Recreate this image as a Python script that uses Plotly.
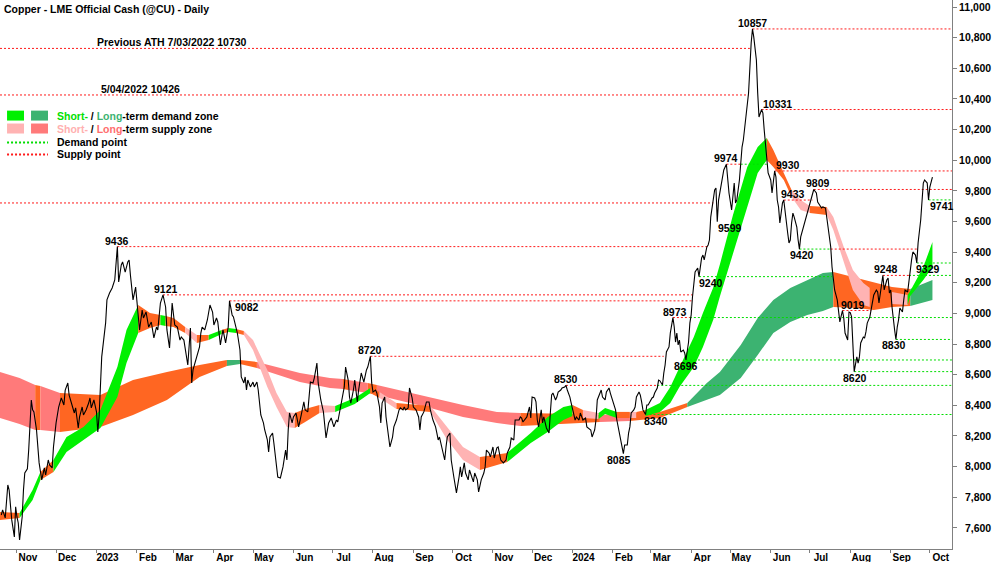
import plotly.graph_objects as go

# ---------------- price (daily close) ----------------
price_dates = [
"2022-10-20","2022-10-21","2022-10-23","2022-10-25","2022-10-26","2022-10-28","2022-10-30","2022-10-31",
"2022-11-01","2022-11-02","2022-11-03","2022-11-05","2022-11-06","2022-11-07","2022-11-09","2022-11-10",
"2022-11-12","2022-11-13","2022-11-14","2022-11-16","2022-11-18","2022-11-19","2022-11-20","2022-11-22",
"2022-11-23","2022-11-25","2022-11-26","2022-11-28","2022-11-29","2022-12-01","2022-12-03","2022-12-05",
"2022-12-07","2022-12-08","2022-12-10","2022-12-11","2022-12-13","2022-12-15","2022-12-16","2022-12-18",
"2022-12-19","2022-12-21","2022-12-22","2022-12-24","2022-12-26","2022-12-27","2022-12-28","2022-12-30",
"2023-01-01","2023-01-02","2023-01-03","2023-01-05","2023-01-08","2023-01-09","2023-01-11","2023-01-13",
"2023-01-15","2023-01-17","2023-01-18","2023-01-20","2023-01-21","2023-01-23","2023-01-25","2023-01-26",
"2023-01-27","2023-01-29","2023-01-31","2023-02-01","2023-02-03","2023-02-05","2023-02-06","2023-02-08",
"2023-02-10","2023-02-12","2023-02-13","2023-02-14","2023-02-16","2023-02-17","2023-02-19","2023-02-21",
"2023-02-23","2023-02-24","2023-02-26","2023-02-27","2023-02-28","2023-03-02","2023-03-04","2023-03-06",
"2023-03-07","2023-03-09","2023-03-11","2023-03-12","2023-03-14","2023-03-15","2023-03-16","2023-03-18",
"2023-03-19","2023-03-21","2023-03-22","2023-03-23","2023-03-25","2023-03-27","2023-03-29","2023-03-31",
"2023-04-01","2023-04-03","2023-04-04","2023-04-06","2023-04-07","2023-04-08","2023-04-10","2023-04-12",
"2023-04-13","2023-04-15","2023-04-16","2023-04-19","2023-04-21","2023-04-22","2023-04-24","2023-04-25",
"2023-04-26","2023-04-27","2023-04-29","2023-05-01","2023-05-02","2023-05-04","2023-05-05","2023-05-07",
"2023-05-09","2023-05-10","2023-05-12","2023-05-13","2023-05-14","2023-05-16","2023-05-17","2023-05-19",
"2023-05-20","2023-05-22","2023-05-24","2023-05-26","2023-05-27","2023-05-28","2023-05-29","2023-05-31",
"2023-06-01","2023-06-03","2023-06-05","2023-06-07","2023-06-09","2023-06-10","2023-06-12","2023-06-14",
"2023-06-16","2023-06-17","2023-06-19","2023-06-20","2023-06-22","2023-06-24","2023-06-25","2023-06-26",
"2023-06-28","2023-06-30","2023-07-02","2023-07-04","2023-07-05","2023-07-08","2023-07-10","2023-07-11",
"2023-07-13","2023-07-14","2023-07-15","2023-07-17","2023-07-18","2023-07-20","2023-07-21","2023-07-23",
"2023-07-25","2023-07-27","2023-07-28","2023-07-30","2023-07-31","2023-08-01","2023-08-03","2023-08-04",
"2023-08-06","2023-08-07","2023-08-08","2023-08-10","2023-08-11","2023-08-13","2023-08-14","2023-08-16",
"2023-08-17","2023-08-19","2023-08-21","2023-08-22","2023-08-24","2023-08-25","2023-08-26","2023-08-28",
"2023-08-29","2023-08-31","2023-09-01","2023-09-03","2023-09-05","2023-09-06","2023-09-07","2023-09-09",
"2023-09-11","2023-09-13","2023-09-14","2023-09-16","2023-09-18","2023-09-19","2023-09-20","2023-09-21",
"2023-09-23","2023-09-25","2023-09-26","2023-09-27","2023-09-29","2023-09-30","2023-10-02","2023-10-04",
"2023-10-06","2023-10-07","2023-10-08","2023-10-10","2023-10-11","2023-10-13","2023-10-14","2023-10-16",
"2023-10-17","2023-10-18","2023-10-20","2023-10-21","2023-10-23","2023-10-25","2023-10-26","2023-10-27",
"2023-10-29","2023-10-30","2023-11-01","2023-11-02","2023-11-04","2023-11-05","2023-11-07","2023-11-09",
"2023-11-11","2023-11-12","2023-11-14","2023-11-15","2023-11-17","2023-11-18","2023-11-21","2023-11-22",
"2023-11-23","2023-11-24","2023-11-27","2023-11-29","2023-11-30","2023-12-01","2023-12-03","2023-12-04",
"2023-12-05","2023-12-06","2023-12-08","2023-12-09","2023-12-10","2023-12-12","2023-12-14","2023-12-15",
"2023-12-16","2023-12-17","2023-12-19","2023-12-20","2023-12-21","2023-12-23","2023-12-24","2023-12-26",
"2023-12-27","2023-12-28","2023-12-30","2023-12-31","2024-01-02","2024-01-03","2024-01-04","2024-01-06",
"2024-01-07","2024-01-09","2024-01-11","2024-01-12","2024-01-15","2024-01-16","2024-01-18","2024-01-19",
"2024-01-20","2024-01-22","2024-01-23","2024-01-24","2024-01-26","2024-01-27","2024-01-29","2024-01-30",
"2024-01-31","2024-02-01","2024-02-03","2024-02-04","2024-02-05","2024-02-07","2024-02-08","2024-02-09",
"2024-02-10","2024-02-12","2024-02-13","2024-02-14","2024-02-15","2024-02-17","2024-02-18","2024-02-19",
"2024-02-21","2024-02-22","2024-02-23","2024-02-24","2024-02-26","2024-02-27","2024-02-28","2024-03-01",
"2024-03-02","2024-03-03","2024-03-04","2024-03-06","2024-03-07","2024-03-08","2024-03-10","2024-03-11",
"2024-03-12","2024-03-13","2024-03-15","2024-03-16","2024-03-18","2024-03-19","2024-03-20","2024-03-21",
"2024-03-22","2024-03-23","2024-03-24","2024-03-26","2024-03-27","2024-03-28","2024-03-29","2024-03-30",
"2024-03-31","2024-04-01","2024-04-02","2024-04-03","2024-04-04","2024-04-06","2024-04-07","2024-04-09",
"2024-04-10","2024-04-11","2024-04-13","2024-04-14","2024-04-15","2024-04-16","2024-04-18","2024-04-19",
"2024-04-20","2024-04-21","2024-04-22","2024-04-25","2024-04-26","2024-04-28","2024-04-29","2024-04-30",
"2024-05-02","2024-05-03","2024-05-04","2024-05-05","2024-05-06","2024-05-08","2024-05-09","2024-05-10",
"2024-05-11","2024-05-12","2024-05-14","2024-05-15","2024-05-17","2024-05-18","2024-05-19","2024-05-21",
"2024-05-22","2024-05-23","2024-05-25","2024-05-26","2024-05-27","2024-05-29","2024-05-30","2024-06-01",
"2024-06-02","2024-06-04","2024-06-05","2024-06-06","2024-06-07","2024-06-08","2024-06-10","2024-06-11",
"2024-06-12","2024-06-14","2024-06-15","2024-06-16","2024-06-17","2024-06-18","2024-06-19","2024-06-21",
"2024-06-22","2024-06-23","2024-06-24","2024-06-26","2024-06-28","2024-06-30","2024-07-02","2024-07-04",
"2024-07-06","2024-07-07","2024-07-10","2024-07-11","2024-07-13","2024-07-14","2024-07-15","2024-07-17",
"2024-07-18","2024-07-19","2024-07-20","2024-07-22","2024-07-23","2024-07-24","2024-07-26","2024-07-27",
"2024-07-28","2024-07-30","2024-07-31","2024-08-01","2024-08-02","2024-08-03","2024-08-04","2024-08-06",
"2024-08-07","2024-08-08","2024-08-09","2024-08-11","2024-08-12","2024-08-13","2024-08-14","2024-08-16",
"2024-08-17","2024-08-18","2024-08-19","2024-08-21","2024-08-22","2024-08-23","2024-08-25","2024-08-26",
"2024-08-27","2024-08-29","2024-08-30","2024-08-31","2024-09-01","2024-09-02","2024-09-04","2024-09-05",
"2024-09-06","2024-09-07","2024-09-08","2024-09-10","2024-09-11","2024-09-12","2024-09-14","2024-09-15",
"2024-09-16","2024-09-17","2024-09-18","2024-09-20","2024-09-21","2024-09-22","2024-09-24","2024-09-25",
"2024-09-26","2024-09-27","2024-09-29","2024-09-30","2024-10-01","2024-10-03",
]
price_vals = [
7684,7717,7665,7880,7847,7652,7541,7737,
7671,7632,7521,7671,7847,7958,7985,8108,
8435,8370,8357,8239,8024,7978,7913,7991,
7945,8043,8011,7991,8128,8285,8389,8448,
8402,8500,8546,8467,8415,8350,8383,8252,
8324,8389,8337,8370,8415,8448,8383,8435,
8357,8226,8330,8716,8938,9088,9133,9166,
9218,9436,9205,9316,9336,9270,9336,9349,
9251,9088,9172,9075,8892,9022,8970,9009,
8911,8944,8892,8840,8911,8892,9068,9121,
9042,8892,8774,8892,9068,8924,8911,8826,
8846,8826,8716,8663,8905,8546,8631,8696,
8729,8781,8872,8911,8892,8957,9055,9009,
8924,8970,8944,8794,8846,8892,8807,8911,
9082,8990,8977,8872,8761,8585,8546,8585,
8500,8565,8520,8552,8520,8552,8500,8337,
8285,8239,8174,8096,8193,8219,8154,8024,
7932,7926,7998,8108,8043,8239,8350,8285,
8324,8350,8259,8337,8422,8370,8357,8552,
8546,8578,8676,8546,8435,8357,8259,8187,
8285,8317,8259,8304,8291,8415,8520,8650,
8565,8454,8415,8500,8565,8422,8500,8611,
8552,8631,8650,8720,8546,8487,8500,8480,
8389,8285,8415,8454,8324,8193,8128,8193,
8259,8304,8370,8383,8370,8389,8370,8383,
8513,8448,8389,8370,8324,8239,8324,8357,
8422,8422,8370,8304,8259,8219,8174,8193,
8108,8043,8128,8193,8219,8043,7932,7828,
7932,7998,7932,8024,7958,7913,7978,7932,
7900,7958,7913,7835,7913,7958,7998,8108,
8089,8063,8128,8056,8122,8128,8043,8024,
8043,8089,8128,8187,8174,8304,8304,8324,
8317,8291,8324,8389,8317,8454,8448,8422,
8304,8259,8370,8285,8324,8252,8219,8350,
8467,8480,8435,8454,8487,8500,8513,8520,
8530,8500,8454,8415,8350,8304,8324,8304,
8350,8304,8317,8259,8239,8193,8239,8304,
8435,8480,8500,8454,8435,8487,8513,8480,
8454,8422,8370,8304,8259,8174,8108,8085,
8141,8141,8219,8259,8350,8370,8389,8454,
8487,8467,8422,8370,8340,8402,8402,8435,
8448,8454,8480,8513,8565,8560,8533,8611,
8663,8748,8781,8872,8973,8911,8813,8872,
8794,8826,8748,8761,8742,8696,8748,8813,
8937,8990,9107,9198,9270,9296,9240,9362,
9381,9349,9434,9447,9479,9629,9740,9806,
9819,9599,9740,9871,9936,9974,9890,9786,
9675,9773,9851,9721,9740,9871,10001,10086,
10132,10217,10347,10439,10765,10857,10804,10654,
10439,10282,10331,10308,10197,10021,9917,9871,
9786,9930,9890,9740,9695,9590,9721,9740,
9655,9525,9460,9479,9590,9655,9629,9564,
9479,9420,9499,9564,9629,9695,9760,9809,
9786,9727,9688,9695,9688,9623,9544,9434,
9303,9218,9153,9088,9009,8944,9019,8970,
8872,8826,9009,9005,8977,8761,8620,8716,
8676,8716,8807,8846,8840,8879,8937,8977,
9022,9068,9120,9153,9140,9068,9172,9248,
9153,9218,9231,9133,9153,9042,8892,8830,
8911,8957,9035,9009,9088,9153,9140,9218,
9264,9349,9401,9381,9329,9460,9610,9740,
9851,9871,9851,9741,9825,9890,
]

# ---------------- long-term zone band ----------------
lt_dates = ["2022-10-19","2022-11-03","2022-11-15","2022-11-19","2022-12-04","2023-01-04","2023-01-29",
            "2023-02-24","2023-03-21","2023-04-11","2023-04-21","2023-05-04","2023-06-06","2023-06-29",
            "2023-07-09","2023-07-13","2023-07-28","2023-08-04","2023-09-14","2023-10-09","2023-11-04",
            "2023-11-22","2024-01-07","2024-01-22","2024-02-14","2024-03-08","2024-03-29","2024-04-13",
            "2024-04-23","2024-05-09","2024-05-22","2024-06-03","2024-06-16","2024-06-29","2024-07-11",
            "2024-07-19","2024-08-06","2024-08-19","2024-09-02","2024-09-16","2024-10-03"]
lt_upper = [8618,8578,8533,8526,8480,8467,8565,8618,8663,8696,8696,8683,8611,8578,8572,8565,8546,8533,
            8454,8402,8357,8350,8344,8337,8350,8357,8415,8546,8618,8794,8970,9088,9166,9218,9264,9270,
            9231,9199,9172,9159,9218]
lt_lower = [8317,8278,8239,8239,8226,8259,8337,8435,8585,8657,8670,8644,8552,8513,8507,8500,8480,8467,
            8383,8324,8285,8265,8285,8291,8298,8317,8389,8435,8467,8578,8729,8872,8944,8990,9016,9042,
            9035,9022,9042,9048,9088]
lt_state = ["ls","ls","x","ls","x","x","x","x","x","ld","x","ls","ls","ls","x","ls","x","ls","ls","ls",
            "ls","x","x","ls","x","x","ld","ld","ld","ld","ld","ld","ld","ld","ld","x","x","x","x","ld"]

# ---------------- short-term zone band ----------------
st_dates = ["2022-10-19","2022-11-03","2022-11-13","2022-11-19","2022-11-29","2022-12-09","2022-12-22",
            "2023-01-04","2023-01-17","2023-01-24","2023-02-02","2023-02-11","2023-02-19","2023-02-23",
            "2023-03-01","2023-03-10","2023-03-19","2023-03-28","2023-04-07","2023-04-12","2023-04-18",
            "2023-04-24","2023-05-01","2023-05-12","2023-05-19","2023-05-27","2023-06-02","2023-06-10",
            "2023-06-21","2023-07-03","2023-07-18","2023-07-30","2023-08-06","2023-08-19","2023-09-14",
            "2023-09-27","2023-10-09","2023-10-22","2023-11-12","2023-11-30","2023-12-13","2023-12-25",
            "2024-01-01","2024-01-09","2024-01-21","2024-01-26","2024-02-04","2024-02-14","2024-02-19",
            "2024-02-26","2024-03-08","2024-03-16","2024-03-23","2024-04-03","2024-04-10","2024-04-18",
            "2024-04-23","2024-05-03","2024-05-14","2024-05-22","2024-05-29","2024-06-03","2024-06-11",
            "2024-06-17","2024-06-24","2024-07-01","2024-07-14","2024-07-19","2024-07-27","2024-08-03",
            "2024-08-11","2024-08-16","2024-09-02","2024-09-14","2024-09-16","2024-09-26","2024-10-03"]
st_upper = [7704,7697,7847,7965,8043,8193,8259,8370,8650,8892,9055,9003,8990,8983,8970,8911,8859,8859,
            8892,8905,8898,8885,8826,8631,8480,8357,8350,8376,8402,8396,8448,8513,8487,8415,8396,8259,
            8128,8063,8089,8219,8324,8389,8402,8370,8350,8383,8357,8357,8357,8370,8415,8520,8650,8846,
            9003,9170,9320,9640,9956,10086,10145,10067,9917,9806,9740,9701,9695,9630,9434,9284,9199,
            9166,9140,9120,9146,9303,9466]
st_lower = [7652,7665,7782,7913,7965,8096,8174,8252,8454,8676,8872,8905,8924,8918,8911,8872,8807,8826,
            8866,8879,8872,8859,8761,8520,8389,8259,8252,8291,8350,8357,8409,8480,8448,8376,8357,8174,
            8043,7978,8030,8154,8226,8304,8331,8317,8311,8344,8317,8317,8317,8331,8357,8415,8520,8650,
            8781,8960,9110,9400,9695,9917,10001,9956,9871,9760,9675,9656,9643,9545,9336,9153,9055,
            9042,9062,9055,9114,9218,9303]
st_state = ["x","sd","sd","x","sd","sd","sd","sd","sd","sd","x","x","sd","x","x","ss","x","sd","x","sd",
            "x","ss","ss","ss","ss","ss","x","x","ss","sd","sd","x","ss","x","ss","ss","ss","x","sd","sd",
            "sd","sd","x","ss","sd","sd","x","ss","x","sd","sd","sd","sd","sd","sd","sd","sd","sd","sd",
            "sd","x","x","x","ss","ss","x","ss","ss","ss","ss","ss","x","ss","sd","sd","sd"]

# ---------------- supply (red) / demand (green) points ----------------
lvl_value = [10730,10426,10857,10331,9930,9809,9974,9974,9740,9721,9436,9420,9420,9248,9248,9240,
             9329,9741,8973,8973,8696,8830,8620,8340,8530,8530,8720,9121,9082,9019]
lvl_start = ["2022-10-19","2022-10-19","2024-05-18","2024-05-25","2024-06-04","2024-07-04","2024-04-28",
             "2024-05-09","2024-06-11","2022-10-19","2023-01-17","2024-06-23","2024-07-17","2024-08-26",
             "2024-09-15","2024-04-07","2024-09-21","2024-09-30","2024-03-18","2024-03-31","2024-03-28",
             "2024-09-05","2024-08-04","2024-02-26","2023-12-27","2024-03-06","2023-07-30","2023-02-21",
             "2023-04-13","2024-07-26"]
lvl_end = ["2024-05-16","2024-05-15","2024-10-18","2024-10-18","2024-10-18","2024-10-18","2024-05-09",
           "2024-05-29","2024-07-03","2024-04-18","2024-04-14","2024-07-17","2024-09-22","2024-09-15",
           "2024-10-18","2024-07-18","2024-10-18","2024-10-18","2024-03-31","2024-10-18","2024-10-18",
           "2024-10-18","2024-10-18","2024-10-18","2024-03-06","2024-10-18","2024-03-11","2024-04-02",
           "2024-04-02","2024-08-17"]
lvl_kind = ["s","s","s","s","s","s","s","d","s","s","s","d","s","s","d","d","d","d","s","d","d","d",
            "d","d","s","d","s","s","s","s"]

# ---------------- point labels ----------------
lbl_text = ["9436","9121","9082","8720","8530","8085","8340","8973","8696","9240","9599","9974","10857",
            "10331","9930","9433","9809","9420","9019","8620","9248","8830","9329","9741"]
lbl_date = ["2023-01-17","2023-02-21","2023-04-13","2023-07-30","2023-12-27","2024-02-09","2024-02-26",
            "2024-03-18","2024-03-28","2024-04-07","2024-04-21","2024-04-28","2024-05-18","2024-05-25",
            "2024-06-04","2024-06-11","2024-07-04","2024-06-23","2024-07-26","2024-08-04","2024-08-26",
            "2024-09-05","2024-09-21","2024-09-30"]
lbl_value = [9436,9121,9082,8720,8530,8085,8340,8973,8696,9240,9599,9974,10857,10331,9930,9740,9809,
             9420,9019,8620,9248,8830,9329,9741]
lbl_side = ["t","t","br","t","t","b","br","t","b","br","br","t","t","tr","tr","tr","t","b","tr","b",
            "t","b","br","br"]
lbl_dx = [0,3,3,0,0,-4,-4,2,0,-2,-1,0,0,-1,-1,-5,4,3,-3,1,3,-2,-3,-1]

month_ticks = ["2022-11-01","2022-12-01","2023-01-01","2023-02-01","2023-03-01","2023-04-01","2023-05-01",
               "2023-06-01","2023-07-01","2023-08-01","2023-09-01","2023-10-01","2023-11-01","2023-12-01",
               "2024-01-01","2024-02-01","2024-03-01","2024-04-01","2024-05-01","2024-06-01","2024-07-01",
               "2024-08-01","2024-09-01","2024-10-01"]
month_text = ["Nov","Dec","2023","Feb","Mar","Apr","May","Jun","Jul","Aug","Sep","Oct","Nov","Dec",
              "2024","Feb","Mar","Apr","May","Jun","Jul","Aug","Sep","Oct"]
price_ticks = list(range(7600, 11001, 200))

# ---------------- styles ----------------
FONT = "Liberation Sans, Arial, sans-serif"
zone_fill = {"sd": "#00F000", "ld": "#3CB371", "ss": "#FFB3B3", "ls": "#FF7A7A", "x": "#FF6622"}
kind_color = {"s": "#FF1A1A", "d": "#00DD00"}

fig = go.Figure()


def add_band(dates, up, lo, state):
    n = len(dates)
    i = 0
    while i < n - 1:
        j = i
        while j + 1 < n - 1 and state[j + 1] == state[i]:
            j += 1
        xs = dates[i:j + 2] + dates[i:j + 2][::-1]
        ys = up[i:j + 2] + lo[i:j + 2][::-1]
        fig.add_trace(go.Scatter(x=xs, y=ys, mode="lines", fill="toself",
                                 fillcolor=zone_fill[state[i]], line=dict(width=0),
                                 hoverinfo="skip", showlegend=False))
        i = j + 1


add_band(lt_dates, lt_upper, lt_lower, lt_state)
add_band(st_dates, st_upper, st_lower, st_state)

for v, s, e, k in zip(lvl_value, lvl_start, lvl_end, lvl_kind):
    fig.add_trace(go.Scatter(x=[s, e], y=[v, v], mode="lines",
                             line=dict(color=kind_color[k], width=1, dash="2px,2px"),
                             hoverinfo="skip", showlegend=False))

fig.add_trace(go.Scatter(x=price_dates, y=price_vals, mode="lines",
                         line=dict(color="#000000", width=1.1), showlegend=False,
                         hovertemplate="%{x}<br>%{y}<extra></extra>"))

bold = dict(family=FONT, size=10.5, color="#000000", weight="bold")
annotations = []
anchor = {"t": ("center", "bottom", -2), "b": ("center", "top", 2),
          "tr": ("left", "bottom", -2), "br": ("left", "top", 2)}
for t, d, v, s, dx in zip(lbl_text, lbl_date, lbl_value, lbl_side, lbl_dx):
    xa, ya, dy = anchor[s]
    annotations.append(dict(x=d, y=v, xref="x", yref="y", text=t, showarrow=False,
                            xanchor=xa, yanchor=ya, xshift=dx, yshift=dy, font=bold))

annotations.append(dict(x="2023-02-28", y=10730, xref="x", yref="y", text="Previous ATH 7/03/2022 10730",
                        showarrow=False, xanchor="center", yanchor="bottom", yshift=-2, font=bold))
annotations.append(dict(x="2023-02-04", y=10426, xref="x", yref="y", text="5/04/2022 10426",
                        showarrow=False, xanchor="center", yanchor="bottom", yshift=-2, font=bold))
annotations.append(dict(x=0, y=1, xref="paper", yref="paper", xshift=2, yshift=-1,
                        text="Copper - LME Official Cash (@CU) - Daily", showarrow=False,
                        xanchor="left", yanchor="top", font=bold))

# legend (drawn by hand like the original)
leg_rows = [
    ('<span style="color:#00E000">Short-</span> / <span style="color:#3CB371">Long</span>-term demand zone', 0.7895),
    ('<span style="color:#FFB0B0">Short-</span> / <span style="color:#FF6E6E">Long</span>-term supply zone', 0.7659),
    ("Demand point", 0.7405),
    ("Supply point", 0.7187),
]
for txt, yy in leg_rows:
    annotations.append(dict(x=0.0578, y=yy, xref="paper", yref="paper", text=txt, showarrow=False,
                            xanchor="left", yanchor="middle", font=bold))

shapes = [
    dict(type="rect", xref="paper", yref="paper", x0=0.0074, x1=0.0252, y0=0.7804, y1=0.7985,
         fillcolor=zone_fill["sd"], line=dict(width=0)),
    dict(type="rect", xref="paper", yref="paper", x0=0.0326, x1=0.0504, y0=0.7804, y1=0.7985,
         fillcolor=zone_fill["ld"], line=dict(width=0)),
    dict(type="rect", xref="paper", yref="paper", x0=0.0074, x1=0.0252, y0=0.7568, y1=0.7750,
         fillcolor=zone_fill["ss"], line=dict(width=0)),
    dict(type="rect", xref="paper", yref="paper", x0=0.0326, x1=0.0504, y0=0.7568, y1=0.7750,
         fillcolor=zone_fill["ls"], line=dict(width=0)),
    dict(type="line", xref="paper", yref="paper", x0=0.0074, x1=0.0504, y0=0.7405, y1=0.7405,
         line=dict(color="#00DD00", width=2, dash="2px,2px")),
    dict(type="line", xref="paper", yref="paper", x0=0.0074, x1=0.0504, y0=0.7187, y1=0.7187,
         line=dict(color="#FF1A1A", width=2, dash="2px,2px")),
]

tick_text_y = [("{:,}".format(v) if v >= 10000 else "\u2007" + "{:,}".format(v)) for v in price_ticks]

fig.update_layout(
    width=1000, height=562,
    margin=dict(l=0, r=48, t=0, b=13),
    paper_bgcolor="#FFFFFF", plot_bgcolor="#FFFFFF",
    showlegend=False,
    annotations=annotations, shapes=shapes,
    font=dict(family=FONT, size=10.5, color="#000000"),
    xaxis=dict(type="date", range=["2022-10-19", "2024-10-18"], tickmode="array",
               tickvals=month_ticks, ticktext=month_text, ticks="outside", ticklen=3,
               tickcolor="#808080", showline=True, linecolor="#808080", linewidth=1,
               showgrid=False, zeroline=False, ticklabelshift=11, ticklabelstandoff=-4,
               automargin=False,
               tickfont=dict(family=FONT, size=10, color="#000000", weight="bold")),
    yaxis=dict(side="right", range=[7462, 11046], tickmode="array", tickvals=price_ticks,
               ticktext=tick_text_y, ticks="outside", ticklen=4, tickcolor="#808080",
               showline=True, linecolor="#808080", linewidth=1, showgrid=False, zeroline=False,
               automargin=False,
               tickfont=dict(family=FONT, size=10.5, color="#000000", weight="bold")),
)

fig.write_html("out.html")
